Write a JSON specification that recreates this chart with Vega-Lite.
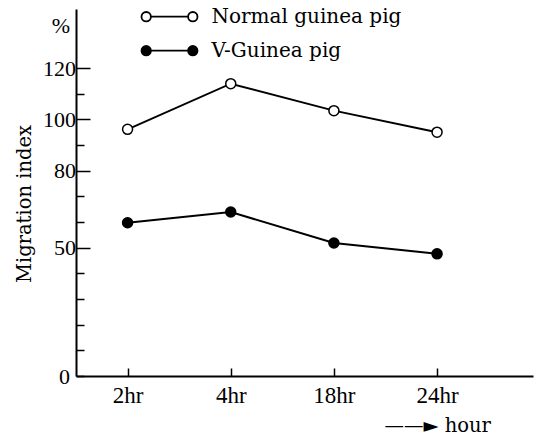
{
  "$schema": "https://vega.github.io/schema/vega-lite/v6.json",
  "width": 457,
  "height": 367,
  "autosize": {"type": "none"},
  "padding": {"left": 76, "top": 9, "right": 10, "bottom": 60},
  "config": {"view": {"stroke": null}, "font": "DejaVu Serif"},
  "data": {
    "values": [
      {"group": "Normal guinea pig", "order": 1, "time": "2hr", "index": 96.1},
      {"group": "Normal guinea pig", "order": 2, "time": "4hr", "index": 113.9},
      {"group": "Normal guinea pig", "order": 3, "time": "18hr", "index": 103.4},
      {"group": "Normal guinea pig", "order": 4, "time": "24hr", "index": 95.0},
      {"group": "V-Guinea pig", "order": 1, "time": "2hr", "index": 59.7},
      {"group": "V-Guinea pig", "order": 2, "time": "4hr", "index": 63.9},
      {"group": "V-Guinea pig", "order": 3, "time": "18hr", "index": 51.8},
      {"group": "V-Guinea pig", "order": 4, "time": "24hr", "index": 47.6}
    ]
  },
  "encoding": {
    "x": {
      "field": "order",
      "type": "quantitative",
      "scale": {"domain": [0.5, 4.93], "nice": false, "zero": false},
      "axis": {
        "values": [1, 2, 3, 4],
        "labelExpr": "['2hr','4hr','18hr','24hr'][datum.value-1]",
        "title": "——► hour",
        "titleX": 308,
        "titleY": 49,
        "titleAlign": "left",
        "titleBaseline": "middle",
        "titleFont": "DejaVu Serif",
        "titleFontSize": 19.5,
        "titleFontWeight": "normal",
        "titleColor": "black",
        "titleLimit": 0,
        "tickSize": -8,
        "tickWidth": 1.5,
        "tickColor": "black",
        "domainColor": "black",
        "domainWidth": 2,
        "labelFont": "Liberation Serif",
        "labelFontSize": 23,
        "labelColor": "black",
        "labelPadding": 16,
        "labelOverlap": false,
        "labelFlush": false,
        "grid": false
      }
    },
    "y": {
      "field": "index",
      "type": "quantitative",
      "scale": {"domain": [0, 143], "nice": false},
      "axis": {
        "values": [0, 10, 20, 30, 40, 50, 60, 70, 80, 90, 100, 110, 120, 136.5],
        "labelExpr": "datum.value == 136.5 ? '%' : (indexof([0,50,80,100,120], datum.value) >= 0 ? datum.label : '')",
        "title": "Migration index",
        "titleX": -52,
        "titleY": 194.5,
        "titleBaseline": "middle",
        "titleFont": "DejaVu Serif",
        "titleFontSize": 19.5,
        "titleFontWeight": "normal",
        "titleColor": "black",
        "titleLimit": 0,
        "tickSize": {"condition": {"test": "indexof([50,80,100,120], datum.value) >= 0", "value": -14}, "value": -8},
        "tickOpacity": {"condition": {"test": "datum.value > 130", "value": 0}, "value": 1},
        "tickWidth": 1.5,
        "tickColor": "black",
        "domainColor": "black",
        "domainWidth": 2,
        "labelFont": "Liberation Serif",
        "labelFontSize": 22,
        "labelColor": "black",
        "labelPadding": 14.5,
        "labelOverlap": false,
        "labelFlush": false,
        "grid": false
      }
    }
  },
  "layer": [
    {
      "mark": {"type": "line", "color": "black", "strokeWidth": 2},
      "encoding": {"detail": {"field": "group", "type": "nominal"}}
    },
    {
      "mark": {"type": "point", "shape": "circle", "filled": true, "size": 100, "stroke": "black", "strokeWidth": 1.5, "opacity": 1},
      "encoding": {
        "fill": {
          "field": "group",
          "type": "nominal",
          "scale": {"domain": ["Normal guinea pig", "V-Guinea pig"], "range": ["white", "black"]},
          "legend": {
            "orient": "none",
            "legendX": 82.5,
            "legendY": -3.3,
            "title": null,
            "padding": 0,
            "symbolType": "M-2.8,0a0.47,0.47 0 1,0 0.94,0a0.47,0.47 0 1,0 -0.94,0ZM-1.86,0L1.86,0M1.86,0a0.47,0.47 0 1,0 0.94,0a0.47,0.47 0 1,0 -0.94,0Z",
            "symbolSize": 400,
            "symbolStrokeColor": "black",
            "symbolStrokeWidth": 1.8,
            "symbolOpacity": 1,
            "labelFont": "DejaVu Serif",
            "labelFontSize": 20,
            "labelColor": "black",
            "labelLimit": 0,
            "labelOffset": 31,
            "rowPadding": 13
          }
        }
      }
    }
  ]
}
